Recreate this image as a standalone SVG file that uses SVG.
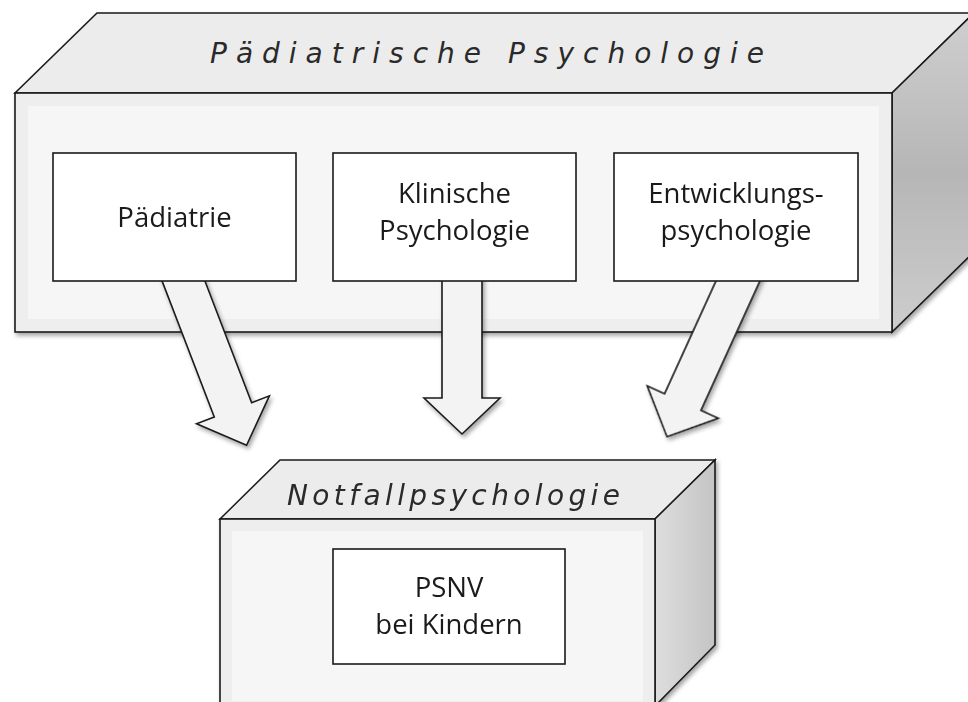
<svg xmlns="http://www.w3.org/2000/svg" width="968" height="702" viewBox="0 0 968 702">
<defs>
  <style>
    .edge { stroke: #1a1a1a; stroke-width: 1.6; stroke-linejoin: miter; }
    .front { fill: #eeeeee; }
    .front-in { fill: #f6f6f6; }
    .top { fill: #ececec; }
    .inner { fill: #ffffff; stroke: #1a1a1a; stroke-width: 1.6; }
    .lbl { font-family: "Open Sans", "Noto Sans", "Liberation Sans", sans-serif; font-size: 27.5px; fill: #1a1a1a; text-anchor: middle; }
    .ttl { font-family: "DejaVu Sans", "Liberation Sans", sans-serif; font-style: italic; font-size: 28px; fill: #2a2a2a; }
    .arrow { fill: #f3f3f3; stroke: #1a1a1a; stroke-width: 1.6; stroke-linejoin: miter; }
  </style>
  <linearGradient id="sideBig" x1="0" y1="0" x2="0" y2="1">
    <stop offset="0" stop-color="#cfcfcf"/>
    <stop offset="0.5" stop-color="#b6b6b6"/>
    <stop offset="1" stop-color="#cdcdcd"/>
  </linearGradient>
  <linearGradient id="sideSmall" x1="0" y1="0" x2="1" y2="0">
    <stop offset="0" stop-color="#dedede"/>
    <stop offset="1" stop-color="#c4c4c4"/>
  </linearGradient>
  <filter id="shadow" x="-10%" y="-10%" width="130%" height="130%">
    <feDropShadow dx="2" dy="3" stdDeviation="2" flood-color="#000" flood-opacity="0.35"/>
  </filter>
</defs>
<rect width="968" height="702" fill="#ffffff"/>

<g id="paediatrische-psychologie">
  <g filter="url(#shadow)">
    <polygon class="top edge" points="15,93 97,13 974,13 892,93"/>
    <polygon class="edge" fill="url(#sideBig)" points="892,93 974,13 974,252 892,332"/>
    <rect class="front edge" x="15" y="93" width="877" height="239"/>
  </g>
  <rect class="front-in" x="28" y="106" width="851" height="213"/>
  <text class="ttl" x="210" y="63" textLength="554" lengthAdjust="spacing">Pädiatrische Psychologie</text>
</g>

<g id="connectors" filter="url(#shadow)">
  <polygon class="arrow" transform="translate(183.5,281) rotate(-21)" points="-20,-30 20,-30 20,138 39,138 0,176 -39,138 -20,138"/>
  <polygon class="arrow" transform="translate(462,281)" points="-20,-30 20,-30 20,117 38,117 0,153 -38,117 -20,117"/>
  <polygon class="arrow" transform="translate(737.5,282) rotate(24.5)" points="-20,-30 20,-30 20,132 39,132 0,170 -39,132 -20,132"/>
</g>

<g id="paediatrie">
  <rect class="inner" x="53" y="153" width="243" height="128"/>
  <text class="lbl" x="174.5" y="227">Pädiatrie</text>
</g>
<g id="klinische-psychologie">
  <rect class="inner" x="333" y="153" width="243" height="128"/>
  <text class="lbl" x="454.5" y="203">Klinische</text>
  <text class="lbl" x="454.5" y="240">Psychologie</text>
</g>
<g id="entwicklungspsychologie">
  <rect class="inner" x="614" y="153" width="244" height="128"/>
  <text class="lbl" x="736" y="203">Entwicklungs-</text>
  <text class="lbl" x="736" y="240">psychologie</text>
</g>

<g id="notfallpsychologie">
  <g filter="url(#shadow)">
    <polygon class="top edge" points="220,519 280,460 715,460 655,519"/>
    <polygon class="edge" fill="url(#sideSmall)" points="655,519 715,460 715,645 655,706"/>
    <rect class="front edge" x="220" y="519" width="435" height="187"/>
  </g>
  <rect class="front-in" x="232" y="531" width="411" height="170"/>
  <text class="ttl" x="287" y="505" textLength="333" lengthAdjust="spacing">Notfallpsychologie</text>
  <g id="psnv">
    <rect class="inner" x="333" y="549" width="232" height="115"/>
    <text class="lbl" x="449" y="597">PSNV</text>
    <text class="lbl" x="449" y="634">bei Kindern</text>
  </g>
</g>
</svg>
